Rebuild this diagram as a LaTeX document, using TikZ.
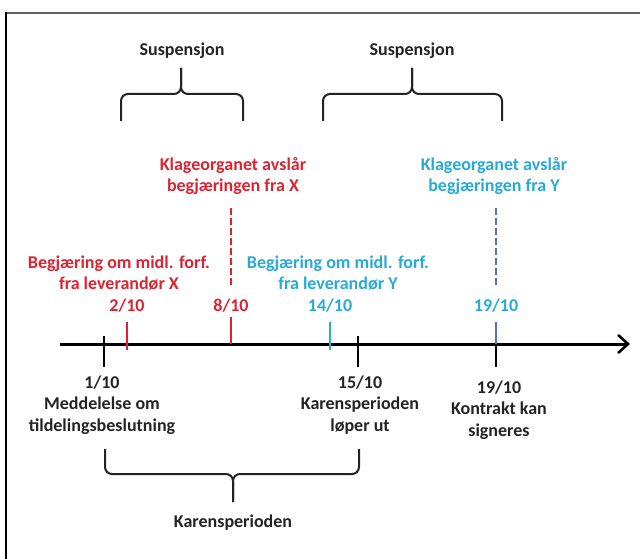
\documentclass[tikz,border=0pt]{standalone}
\usepackage{fontspec}
\setmainfont{Carlito}
\usetikzlibrary{arrows.meta}
\definecolor{kred}{RGB}{220,35,50}
\definecolor{kblue}{RGB}{40,170,215}
\definecolor{kslate}{RGB}{85,115,185}
\definecolor{kdark}{RGB}{35,35,35}
\definecolor{kframe}{RGB}{95,95,95}
\tikzset{
  lbl/.style={font=\bfseries\fontsize{18}{21.5}\selectfont, align=center, inner sep=0pt, text=kdark},
  redlbl/.style={lbl, text=kred},
  bluelbl/.style={lbl, text=kblue},
  bracepath/.style={draw=kdark, line width=2pt, rounded corners=7pt},
  axisline/.style={draw=black, line width=3pt, -{Straight Barb[length=10pt,width=18pt,line width=2.6pt]}},
  blacktick/.style={draw=black, line width=2.6pt},
  redtick/.style={draw=kred, line width=2.6pt},
  bluetick/.style={draw=kblue, line width=2.6pt},
  slatetick/.style={draw=kslate, line width=2.6pt},
  reddash/.style={draw=kred, line width=2.6pt, dash pattern=on 7pt off 3pt},
  slatedash/.style={draw=kslate, line width=2.6pt, dash pattern=on 7pt off 3pt},
}
\begin{document}
\begin{tikzpicture}[x=1pt,y=-1pt]
\useasboundingbox (0,0) rectangle (640,559);
% frame
\draw[kframe, line width=2pt] (5,13) -- (640,13);
\draw[black, line width=1.6pt] (6,12) -- (6,559);

% axis
\coordinate (axL) at (60,344);
\coordinate (axR) at (630,344);
\draw[axisline] (axL) -- (axR);

% black ticks
\coordinate (t1a) at (104,336); \coordinate (t1b) at (104,367);
\coordinate (t15a) at (358,336); \coordinate (t15b) at (358,367);
\coordinate (t19b) at (496,367);
\draw[blacktick] (t1a) -- (t1b);
\draw[blacktick] (t15a) -- (t15b);
\draw[blacktick] (496,344) -- (t19b);

% coloured ticks
\draw[redtick] (127,322) -- (127,350);
\draw[redtick] (231,317) -- (231,344);
\draw[bluetick] (330,322) -- (330,350);
\draw[slatetick] (496,322) -- (496,344);

% dashed lines
\draw[reddash] (231,208) -- (231,288);
\draw[slatedash] (496,208) -- (496,288);

% top labels
\node[lbl] (s1) at (182,51) {Suspensjon};
\node[lbl] (s2) at (412,51) {Suspensjon};

% top braces
\draw[bracepath] (121,121) -- (121,94) -- (181,94) -- (181,68);
\draw[bracepath] (243,121) -- (243,94) -- (181,94) -- (181,68);
\draw[bracepath] (323,121) -- (323,94) -- (412,94) -- (412,68);
\draw[bracepath] (502,121) -- (502,94) -- (412,94) -- (412,68);

% red/blue texts
\node[redlbl] (kx) at (233,176) {Klageorganet avslår\\begjæringen fra X};
\node[bluelbl] (ky) at (494,176) {Klageorganet avslår\\begjæringen fra Y};
\node[redlbl] (bx) at (119,273) {Begjæring om midl. forf.\\fra leverandør X};
\node[bluelbl] (by) at (338,273) {Begjæring om midl. forf.\\fra leverandør Y};

% dates
\node[redlbl] (d2) at (127,306) {2/10};
\node[redlbl] (d8) at (231,306) {8/10};
\node[bluelbl] (d14) at (330,306) {14/10};
\node[bluelbl] (d19) at (496,306) {19/10};

% bottom labels
\node[lbl] (b1) at (102,405) {1/10\\Meddelelse om\\tildelingsbeslutning};
\node[lbl] (b15) at (360,405) {15/10\\Karensperioden\\løper ut};
\node[lbl] (b19) at (499,410) {19/10\\Kontrakt kan\\signeres};

% bottom brace
\draw[bracepath] (105,449) -- (105,474) -- (233,474) -- (233,502);
\draw[bracepath] (359,449) -- (359,474) -- (233,474) -- (233,502);
\node[lbl] (kp) at (233,523) {Karensperioden};
\end{tikzpicture}
\end{document}
